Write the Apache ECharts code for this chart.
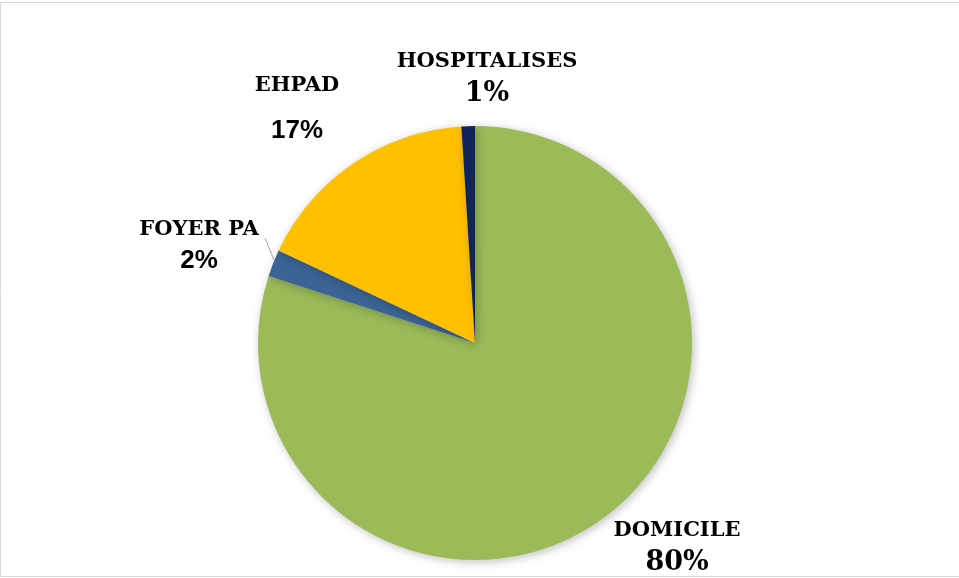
<!DOCTYPE html>
<html>
<head>
  <meta charset="utf-8">
  <title>pie</title>
  <script src="https://cdn.jsdelivr.net/npm/echarts@6/dist/echarts.min.js"></script>
  <style>
    html, body { margin: 0; padding: 0; background: #fff; }
    #main { width: 959px; height: 578px; }
  </style>
</head>
<body>
  <div id="main"></div>
  <script>
    // data
    var categories = ['DOMICILE', 'FOYER PA', 'EHPAD', 'HOSPITALISES'];
    var values = [80, 2, 17, 1];
    var colors = ['#9BBB59', '#3B6494', '#FFC000', '#0F2459'];

    // where each label sits (centre of the text block)
    var labelPos = [[677, 547], [199, 245], [297, 108], [487, 78]];
    var pctStyle = ['pctSerif', 'pctSans', 'pctSans', 'pctSerif'];

    var chart = echarts.init(document.getElementById('main'));

    var option = {
      animation: false,
      backgroundColor: '#fff',
      graphic: [{
        type: 'rect',
        shape: { x: 0.5, y: 2.5, width: 970, height: 574 },
        style: { fill: 'none', stroke: '#d9d9d9', lineWidth: 1 },
        silent: true
      }],
      series: [{
        type: 'pie',
        center: [475, 343],
        radius: 217,
        startAngle: 90,
        clockwise: true,
        data: categories.map(function (c, i) {
          return {
            name: c,
            value: values[i],
            itemStyle: { color: colors[i] },
            label: {
              formatter: i === 2 ? '{name|{b}}\n{gap|}\n{' + pctStyle[i] + '|{d}%}' : '{name|{b}}\n{' + pctStyle[i] + '|{d}%}'
            },
            labelLine: { show: i === 1 }
          };
        }),
        itemStyle: {
          borderWidth: 0,
          shadowBlur: 10,
          shadowColor: 'rgba(0,0,0,0.25)',
          shadowOffsetX: 2,
          shadowOffsetY: 2
        },
        label: {
          show: true,
          position: 'outside',
          color: '#000',
          align: 'center',
          rich: {
            name: { fontFamily: 'DejaVu Serif', fontWeight: 'bold', fontSize: 21, color: '#000', lineHeight: 31, align: 'center' },
            pctSerif: { fontFamily: 'DejaVu Serif', fontWeight: 'bold', fontSize: 27, color: '#000', lineHeight: 32, align: 'center' },
            pctSans: { fontFamily: 'Liberation Sans', fontWeight: 'bold', fontSize: 26, color: '#000', lineHeight: 30, align: 'center' },
            gap: { height: 15, lineHeight: 15 }
          }
        },
        labelLine: {
          length: 8,
          length2: 0,
          lineStyle: { color: '#a6a6a6', width: 1 }
        },
        labelLayout: function (params) {
          var p = labelPos[params.dataIndex];
          return {
            x: p[0],
            y: p[1],
            align: 'center',
            verticalAlign: 'middle',
            labelLinePoints: params.dataIndex === 1 ? [[274, 260], [265, 238], [265, 238]] : undefined
          };
        }
      }]
    };

    chart.setOption(option);
  </script>
</body>
</html>
